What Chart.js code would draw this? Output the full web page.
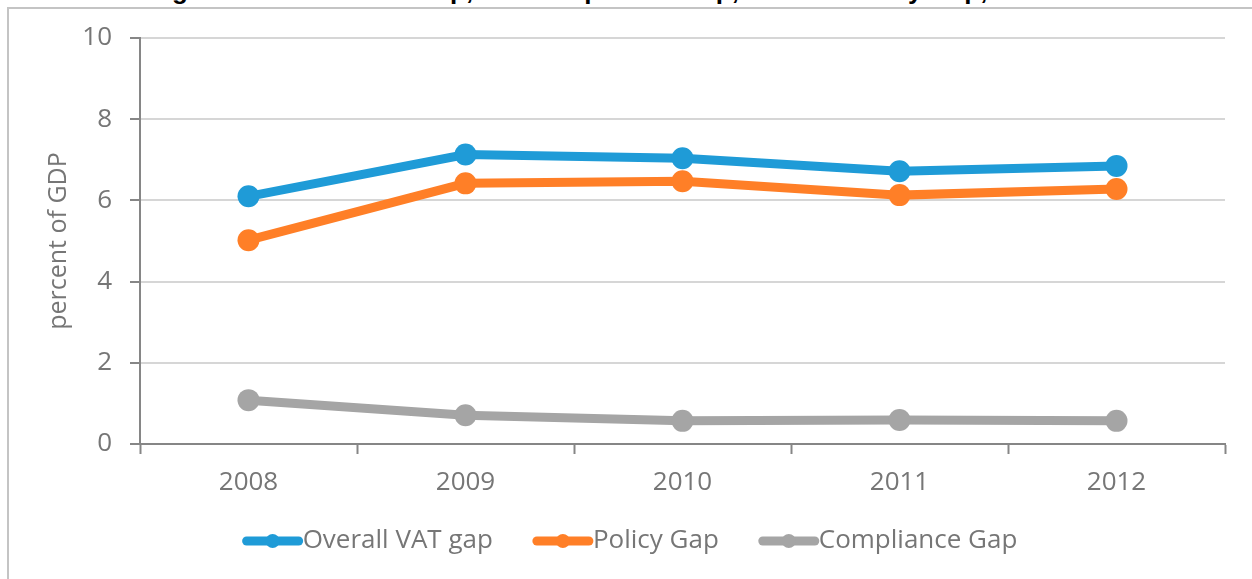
<!DOCTYPE html>
<html>
<head>
<meta charset="utf-8">
<script src="https://cdn.jsdelivr.net/npm/chart.js@4"></script>
<style>
  html, body { margin: 0; padding: 0; background: #fff; }
  body { width: 1252px; height: 579px; position: relative; overflow: hidden; }
  #frame { position: absolute; left: 7px; top: 7px; width: 1300px; height: 700px; border: 2px solid #c4c4c4; box-sizing: border-box; }
  #title { position: absolute; left: 149px; top: -24px; font: bold 26px "Liberation Sans", Arial, sans-serif; color: #000; white-space: nowrap; line-height: 28px; }
  #wrap { position: absolute; left: 0; top: 0; width: 1252px; height: 579px; }
</style>
</head>
<body>
<div id="title">Figure 1. Overall VAT Gap, the Compliance Gap, and the Policy Gap, 2008</div>
<div id="frame"></div>
<div id="wrap"><canvas id="chart" width="1252" height="579"></canvas></div>
<script>
// data
const years = ['2008', '2009', '2010', '2011', '2012'];
const overallGap = [6.10, 7.13, 7.04, 6.72, 6.85];
const policyGap = [5.02, 6.42, 6.47, 6.13, 6.28];
const complianceGap = [1.08, 0.71, 0.57, 0.59, 0.57];

const seriesNames = ['Overall VAT gap', 'Policy Gap', 'Compliance Gap'];
const seriesColors = ['#1f9bd7', '#ff7f27', '#a5a5a5'];

const textColor = '#767676';
const fontFamily = '"Open Sans", "Noto Sans", sans-serif';

// draws the legend under the axis (line with a dot, then the name)
const bottomLegend = {
    id: 'bottomLegend',
    afterDraw(chart) {
        const ctx = chart.ctx;
        ctx.save();
        ctx.font = '26px ' + fontFamily;
        const symW = 60, gap = 40, y = 541;
        let total = 0;
        seriesNames.forEach((n, i) => {
            total += symW + ctx.measureText(n).width + (i < seriesNames.length - 1 ? gap : 0);
        });
        let x = 630 - total / 2;
        seriesNames.forEach((n, i) => {
            ctx.strokeStyle = seriesColors[i];
            ctx.lineWidth = 9;
            ctx.lineCap = 'round';
            ctx.beginPath();
            ctx.moveTo(x + 4, y);
            ctx.lineTo(x + symW - 4, y);
            ctx.stroke();
            ctx.fillStyle = seriesColors[i];
            ctx.beginPath();
            ctx.arc(x + symW / 2, y, 7, 0, Math.PI * 2);
            ctx.fill();
            ctx.fillStyle = textColor;
            ctx.textBaseline = 'middle';
            ctx.textAlign = 'left';
            ctx.fillText(n, x + symW, y);
            x += symW + ctx.measureText(n).width + gap;
        });
        ctx.restore();
    }
};

const datasets = [overallGap, policyGap, complianceGap].map((vals, i) => ({
    label: seriesNames[i],
    data: vals,
    borderColor: seriesColors[i],
    backgroundColor: seriesColors[i],
    borderWidth: 9,
    pointRadius: 11,
    pointHoverRadius: 11,
    pointBorderWidth: 0,
    tension: 0,
    fill: false
}));
// draw grey first so it sits under the others
datasets.reverse();

new Chart(document.getElementById('chart'), {
    type: 'line',
    data: { labels: years, datasets: datasets },
    options: {
        responsive: false,
        animation: false,
        events: [],
        layout: { padding: { top: 38, right: 27, left: 0, bottom: 0 } },
        plugins: {
            legend: { display: false },
            tooltip: { enabled: false }
        },
        scales: {
            x: {
                offset: true,
                afterFit(scale) { scale.height = 135; },
                grid: {
                    offset: true,
                    drawOnChartArea: false,
                    tickLength: 10,
                    tickColor: '#868686',
                    tickWidth: 2
                },
                border: { color: '#868686', width: 2 },
                ticks: {
                    color: textColor,
                    padding: 13,
                    font: { family: fontFamily, size: 26 }
                }
            },
            y: {
                min: 0,
                max: 10,
                afterFit(scale) { scale.width = 140; },
                grid: {
                    color: '#d6d6d6',
                    lineWidth: 2,
                    tickLength: 10,
                    tickColor: '#868686',
                    tickWidth: 2,
                    drawTicks: true
                },
                border: { color: '#868686', width: 2 },
                ticks: {
                    stepSize: 2,
                    color: textColor,
                    padding: 18,
                    font: { family: fontFamily, size: 26 }
                },
                title: {
                    display: true,
                    text: 'percent of GDP',
                    color: textColor,
                    padding: { top: 44, bottom: 0 },
                    font: { family: fontFamily, size: 25 }
                }
            }
        }
    },
    plugins: [bottomLegend]
});
</script>
</body>
</html>
